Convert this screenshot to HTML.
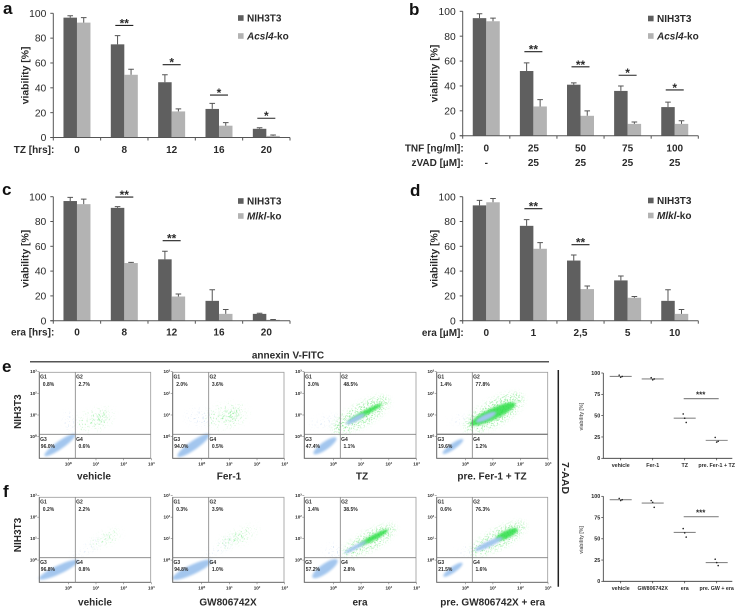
<!DOCTYPE html>
<html lang="en">
<head>
<meta charset="utf-8">
<title>Viability and flow cytometry figure</title>
<style>
html,body{margin:0;padding:0;background:#fff;width:738px;height:609px;overflow:hidden}
svg{display:block;filter:blur(.35px)}
text{font-family:"Liberation Sans",Arial,sans-serif;fill:#2a2a2a}
.b{font-weight:bold}
</style>
</head>
<body>
<svg id="fig" xmlns="http://www.w3.org/2000/svg" width="738" height="609" viewBox="0 0 738 609">
<defs>
<filter id="sparse" x="-40%" y="-60%" width="180%" height="220%">
<feGaussianBlur stdDeviation="3.5" result="b"/>
<feTurbulence type="fractalNoise" baseFrequency="0.75" numOctaves="1" seed="4" result="n"/>
<feColorMatrix in="n" type="matrix" values="0 0 0 0 0  0 0 0 0 0  0 0 0 0 0  10 0 0 0 -6.1" result="m"/>
<feComposite in="b" in2="m" operator="in"/>
</filter>
<filter id="medium" x="-40%" y="-60%" width="180%" height="220%">
<feGaussianBlur stdDeviation="3" result="b"/>
<feTurbulence type="fractalNoise" baseFrequency="0.75" numOctaves="1" seed="9" result="n"/>
<feColorMatrix in="n" type="matrix" values="0 0 0 0 0  0 0 0 0 0  0 0 0 0 0  10 0 0 0 -5.4" result="m"/>
<feComposite in="b" in2="m" operator="in"/>
</filter>
<filter id="soft" x="-40%" y="-60%" width="180%" height="220%"><feGaussianBlur stdDeviation="1"/></filter>
</defs>
<rect width="738" height="609" fill="#fff"/>
<text class="b" x="3" y="14" font-size="17" style="fill:#111">a</text>
<text class="b" x="409" y="15" font-size="17" style="fill:#111">b</text>
<text class="b" x="2" y="195" font-size="17" style="fill:#111">c</text>
<text class="b" x="410" y="196" font-size="17" style="fill:#111">d</text>
<text class="b" x="2" y="372" font-size="17" style="fill:#111">e</text>
<text class="b" x="3" y="497" font-size="17" style="fill:#111">f</text>
<text class="b" x="288" y="358.5" font-size="10" text-anchor="middle">annexin V-FITC</text>
<line x1="30" x2="549" y1="361.7" y2="361.7" stroke="#555" stroke-width="1.5"/>
<line x1="558.3" x2="558.3" y1="370" y2="586.7" stroke="#222" stroke-width="1.5"/>
<text class="b" font-size="10.5" text-anchor="middle" transform="translate(562,478) rotate(90)">7-AAD</text>
<text class="b" font-size="10" text-anchor="middle" transform="translate(21,411.7) rotate(-90)">NIH3T3</text>
<text class="b" font-size="10" text-anchor="middle" transform="translate(21,535) rotate(-90)">NIH3T3</text>
<text class="b" font-size="10" text-anchor="middle" x="94" y="479.5">vehicle</text>
<text class="b" font-size="10" text-anchor="middle" x="229" y="479.5">Fer-1</text>
<text class="b" font-size="10" text-anchor="middle" x="362" y="479.5">TZ</text>
<text class="b" font-size="10" text-anchor="middle" x="492" y="479.5">pre. Fer-1 + TZ</text>
<text class="b" font-size="10" text-anchor="middle" x="95" y="605.5">vehicle</text>
<text class="b" font-size="10" text-anchor="middle" x="228" y="605.5">GW806742X</text>
<text class="b" font-size="10" text-anchor="middle" x="360" y="605.5">era</text>
<text class="b" font-size="10" text-anchor="middle" x="492.7" y="605.5">pre. GW806742X + era</text>
</svg>
<script>
/* ---------- Bar chart data ---------- */
const aCategories = ['0','8','12','16','20'];
const aNih = [96.5,75,44.5,23,7];
const aNihTop = [98,82,50.5,27.5,7.8];
const aKo = [92.5,50.5,21,9.5,1.3];
const aKoTop = [96.5,55,23,12,2];
const aSigGroups = [1,2,3,4];
const aSigLevels = [90.2,58.6,34.2,15.5];
const aSigStars = ['**','*','*','*'];

const bCategories = ['0','25','50','75','100'];
const bSecondRow = ['-','25','25','25','25'];
const bNih = [94.5,52,41,36,23];
const bNihTop = [98,58.5,42.5,40,27];
const bKo = [92,23.5,16,9.5,9.5];
const bKoTop = [94.5,29,20,11,12];
const bSigGroups = [1,2,3,4];
const bSigLevels = [67.5,55.4,48.6,36.8];
const bSigStars = ['**','**','*','*'];

const cCategories = ['0','8','12','16','20'];
const cNih = [96.5,91,49.5,16,5.5];
const cNihTop = [99.5,92,56,25,6];
const cKo = [94,46.5,19.5,5.5,0.7];
const cKoTop = [98,47,21.5,9,1];
const cSigGroups = [1,2];
const cSigLevels = [99.7,64.5];
const cSigStars = ['**','**'];

const dCategories = ['0','1','2,5','5','10'];
const dNih = [93,76.5,48.5,32.5,16];
const dNihTop = [97,81.5,53,36,25];
const dKo = [95.5,58,25.5,18.5,5.5];
const dKoTop = [98.5,63,28,19.5,9];
const dSigGroups = [1,2];
const dSigLevels = [90.3,61.3];
const dSigStars = ['**','**'];

const barTicks = [0,20,40,60,80,100];

/* ---------- Dot plot data ---------- */
const eDotCategories = ['vehicle','Fer-1','TZ','pre. Fer-1 + TZ'];
const eDotMeans = [96,93,47,21];
const eDotPoints = [[97.5,95,96],[94.5,92,93],[52,47,42],[24.5,19,20]];
const eDotSigLevel = 70;
const fDotCategories = ['vehicle','GW806742X','era','pre. GW + era'];
const fDotMeans = [96,92,57.5,22];
const fDotPoints = [[97.5,95,96],[95,93,87],[62,57,52],[26,22,18.5]];
const fDotSigLevel = 76;
const dotTicks = [0,25,50,75,100];

/* ---------- Flow cytometry gate percentages (G1, G2, G3, G4) ---------- */
const eGates = [['0.8','2.7','96.0','0.6'],['2.0','3.6','94.0','0.5'],['3.0','48.5','47.4','1.1'],['1.4','77.8','19.6','1.2']];
const fGates = [['0.2','2.2','96.8','0.8'],['0.3','3.9','94.8','1.0'],['1.4','38.5','57.2','2.8'],['0.6','76.3','21.5','1.6']];
/* Cloud estimates in log10 decades: [x, y, spreadX, spreadY, tiltDegrees] */
const eGreenClouds = [[[0.96,0.77,0.7,0.42,20]],[[0.9,0.95,0.75,0.5,10]],[[1.0,1.0,1.15,0.48,30]],[[1.05,1.1,1.2,0.55,30]]];
const eDenseClouds = [[[1.1,0.85,0.3,0.12,15]],[[1.0,1.0,0.35,0.16,10]],[[1.15,1.1,0.7,0.12,28]],[[1.0,1.05,0.9,0.26,25]]];
const eBlueClouds = [[[-0.3,-0.38,0.68,0.18,35]],[[-0.3,-0.4,0.7,0.2,35]],[[-0.3,-0.42,0.5,0.18,35],[0.8,0.82,0.38,0.11,28]],[[-0.45,-0.45,0.45,0.14,35],[0.75,0.9,0.4,0.13,25]]];
const ePaleClouds = [[[0.05,0.7,0.2,0.45,0]],[[-0.1,0.9,0.45,0.35,0]],[[-0.3,0.7,0.55,0.2,15]],[[-0.2,0.8,0.35,0.16,15]]];
const fGreenClouds = [[[1.35,1.0,0.6,0.22,25]],[[1.3,1.05,0.8,0.26,25]],[[1.3,0.9,1.05,0.4,28]],[[1.2,1.0,1.1,0.42,28]]];
const fDenseClouds = [[[1.35,1.05,0.22,0.07,15]],[[1.2,1.05,0.35,0.11,20]],[[1.45,1.05,0.6,0.13,28]],[[1.5,1.2,0.45,0.18,25]]];
const fBlueClouds = [[[-0.35,-0.45,0.78,0.2,25]],[[-0.35,-0.45,0.78,0.22,25]],[[-0.3,-0.4,0.55,0.22,35],[0.8,0.6,0.45,0.09,28]],[[-0.45,-0.45,0.42,0.14,35],[0.85,0.75,0.55,0.13,25]]];
const fPaleClouds = [[[0.7,0.55,0.7,0.16,30]],[[0.7,0.6,0.7,0.18,30]],[[0.0,0.4,0.3,0.3,0]],[[0.0,0.4,0.25,0.16,0]]];
const facsTickPowers = ['10\u2070','10\u00b9','10\u00b2','10\u00b3'];

/* ---------- Layout (not data) ---------- */
const NS = 'http://www.w3.org/2000/svg';
const fig = document.getElementById('fig');
function mk(tag, attrs, parent, txt) {
  const n = document.createElementNS(NS, tag);
  for (const k in attrs) n.setAttribute(k, attrs[k]);
  if (txt !== undefined) n.textContent = txt;
  (parent || fig).appendChild(n);
  return n;
}

function drawBarPanel(p) {
  const g = mk('g', {});
  
  
  const step = (p.x1 - p.x0) / p.cats.length;
  const sx = i => p.x0 + step * (i + 0.5);
  const sy = v => p.y0 - (p.y0 - p.y100) * v / 100;
  const barW = 13.5;
  function series(vals, tops, off, color, label) {
    vals.forEach((v, i) => {
      const x = sx(i) + off;
      const r = mk('rect', {x: x, y: sy(v), width: barW, height: p.y0 - sy(v), fill: color}, g);
      
      
      const cx = x + barW / 2;
      const e = mk('path', {d: 'M' + cx + ' ' + sy(v) + 'V' + sy(tops[i]) + 'M' + (cx - 2.8) + ' ' + sy(tops[i]) + 'H' + (cx + 2.8), stroke: '#555', 'stroke-width': 1, fill: 'none'}, g);
      
      
    });
  }
  series(p.nih, p.nihTop, -barW, '#5f5f5f', 'nih3t3');
  series(p.ko, p.koTop, 0, '#b3b3b3', 'ko');
  const ya = mk('line', {x1: p.x0, x2: p.x0, y1: p.y100, y2: p.y0, stroke: '#555'}, g);
  
  
  const xa = mk('line', {x1: p.x0 - 3, x2: p.x1, y1: p.y0, y2: p.y0, stroke: '#555'}, g);
  
  
  barTicks.forEach(t => {
    const tk = mk('line', {x1: p.x0 - 3, x2: p.x0, y1: sy(t), y2: sy(t), stroke: '#555'}, g);
    
    
    const lb = mk('text', {x: p.x0 - 7, y: sy(t) + 3.6, 'font-size': 10.3, 'text-anchor': 'end'}, g, String(t));
    
    
  });
  for (let i = 0; i <= p.cats.length; i++) {
    const tk = mk('line', {x1: p.x0 + step * i, x2: p.x0 + step * i, y1: p.y0, y2: p.y0 + 3, stroke: '#555'}, g);
    
    
  }
  p.cats.forEach((c, i) => {
    const lb = mk('text', {x: sx(i), y: p.labelY, 'font-size': 10, 'text-anchor': 'middle', class: 'b'}, g, c);
    
    
  });
  const xt = mk('text', {x: p.x0 + 1, y: p.labelY, 'font-size': 10, 'text-anchor': 'end', class: 'b'}, g, p.xTitle);
  
  
  if (p.second) {
    p.second.forEach((c, i) => {
      const lb = mk('text', {x: sx(i), y: p.labelY + 14.5, 'font-size': 10, 'text-anchor': 'middle', class: 'b'}, g, c);
      
      
    });
    const t2 = mk('text', {x: p.x0 + 1, y: p.labelY + 14.5, 'font-size': 10, 'text-anchor': 'end', class: 'b'}, g, p.secondTitle);
    
    
  }
  const yt = mk('text', {'font-size': 10.4, 'text-anchor': 'middle', class: 'b', transform: 'translate(' + (p.x0 - 25) + ',' + ((p.y0 + p.y100) / 2) + ') rotate(-90)'}, g, 'viability [%]');
  
  
  p.sigGroups.forEach((grp, i) => {
    const y = sy(p.sigLevels[i]);
    const ln = mk('line', {x1: sx(grp) - 9, x2: sx(grp) + 9, y1: y, y2: y, stroke: '#222', 'stroke-width': 1.1}, g);
    
    
    const st = mk('text', {x: sx(grp), y: y + 2, 'font-size': 12, 'text-anchor': 'middle', class: 'b'}, g, p.sigStars[i]);
    
    
  });
  const sw1 = mk('rect', {x: p.legX, y: p.legY1 - 2.8, width: 5.6, height: 5.6, fill: '#5f5f5f'}, g);
  
  
  const l1 = mk('text', {x: p.legX + 9, y: p.legY1 + 3.6, 'font-size': 10, class: 'b'}, g, 'NIH3T3');
  
  
  const sw2 = mk('rect', {x: p.legX, y: p.legY2 - 2.8, width: 5.6, height: 5.6, fill: '#b3b3b3'}, g);
  
  
  const l2 = mk('text', {x: p.legX + 9, y: p.legY2 + 3.6, 'font-size': 10, class: 'b'}, g);
  
  
  mk('tspan', {'font-style': 'italic'}, l2, p.koName);
  mk('tspan', {}, l2, '-ko');
}

drawBarPanel({id:'a',x0:53.3,x1:290,y0:137.5,y100:13.3,cats:aCategories,nih:aNih,nihTop:aNihTop,ko:aKo,koTop:aKoTop,sigGroups:aSigGroups,sigLevels:aSigLevels,sigStars:aSigStars,labelY:153,xTitle:'TZ [hrs]:',legX:238,legY1:18,legY2:36,koName:'Acsl4'});
drawBarPanel({id:'b',x0:462.7,x1:698.3,y0:135.7,y100:11.3,cats:bCategories,nih:bNih,nihTop:bNihTop,ko:bKo,koTop:bKoTop,sigGroups:bSigGroups,sigLevels:bSigLevels,sigStars:bSigStars,labelY:151.5,xTitle:'TNF [ng/ml]:',second:bSecondRow,secondTitle:'zVAD [\u00b5M]:',legX:648,legY1:18.5,legY2:36,koName:'Acsl4'});
drawBarPanel({id:'c',x0:53.3,x1:290,y0:320.7,y100:196.7,cats:cCategories,nih:cNih,nihTop:cNihTop,ko:cKo,koTop:cKoTop,sigGroups:cSigGroups,sigLevels:cSigLevels,sigStars:cSigStars,labelY:335.5,xTitle:'era [hrs]:',legX:238,legY1:201,legY2:216,koName:'Mlkl'});
drawBarPanel({id:'d',x0:462.7,x1:698.3,y0:320.7,y100:196.7,cats:dCategories,nih:dNih,nihTop:dNihTop,ko:dKo,koTop:dKoTop,sigGroups:dSigGroups,sigLevels:dSigLevels,sigStars:dSigStars,labelY:336,xTitle:'era [\u00b5M]:',legX:648,legY1:200.5,legY2:215.5,koName:'Mlkl'});

/* ---------- Flow cytometry plots ---------- */
function drawFacs(row, idx, box, gates, green, dense, blue, pale) {
  const g = mk('g', {});
  
  
  const w = box.r - box.l;
  const h = box.b - box.t;
  const dx = w * 0.2485;
  const dy = h * 0.2525;
  const sx = v => box.vline + (v * dx) - 7;
  const sy = v => box.hline + 2.4 - v * dy;
  function clouds(list, color, filter, op, label) {
    list.forEach(c => {
      const el = mk('ellipse', {cx: 0, cy: 0, rx: c[2] * dx, ry: c[3] * dy, fill: color, opacity: op, filter: 'url(#' + filter + ')', transform: 'translate(' + sx(c[0]) + ',' + sy(c[1]) + ') rotate(' + (-c[4]) + ')'}, g);
      
      
    });
  }
  const heavy = idx >= 2;
  clouds(pale, '#b4cdee', 'sparse', 0.7, 'sparse-events');
  clouds(green, '#6fe57c', heavy ? 'medium' : 'sparse', heavy ? 0.85 : 0.75, 'green-events');
  clouds(dense, '#2ade45', heavy ? 'soft' : 'medium', heavy ? 0.85 : 0.7, 'dense-green-events');
  clouds(blue, '#a3c6ee', 'soft', 1, 'blue-events');
  const fr = mk('rect', {x: box.l, y: box.t, width: w, height: h, fill: 'none', stroke: '#9a9a9a', 'stroke-width': 0.8}, g);
  
  
  const ax = mk('path', {d: 'M' + box.l + ' ' + box.t + 'V' + box.b + 'H' + box.r, fill: 'none', stroke: '#666', 'stroke-width': 0.9}, g);
  
  
  const vl = mk('line', {x1: box.vline, x2: box.vline, y1: box.t, y2: box.b, stroke: '#808080', 'stroke-width': 0.8}, g);
  
  
  const hl = mk('line', {x1: box.l, x2: box.r, y1: box.hline, y2: box.hline, stroke: '#808080', 'stroke-width': (row === 'e' && idx === 3) ? 1.4 : 0.8}, g);
  
  
  facsTickPowers.forEach((t, i) => {
    const xl = mk('text', {x: sx(i), y: box.b + 7, 'font-size': 4.6, 'text-anchor': 'middle', class: 'b'}, g, t);
    
    
    const xk = mk('line', {x1: sx(i), x2: sx(i), y1: box.b, y2: box.b + 2, stroke: '#777', 'stroke-width': 0.6}, g);
    
    
    const yl = mk('text', {x: box.l - 2.5, y: sy(i) + 1.5, 'font-size': 4.6, 'text-anchor': 'end', class: 'b'}, g, t);
    
    
    const yk = mk('line', {x1: box.l - 2, x2: box.l, y1: sy(i), y2: sy(i), stroke: '#777', 'stroke-width': 0.6}, g);
    
    
  });
  const spots = [
    ['G1', box.l + 0.8, box.t + 6, box.l + 3.5, box.t + 13.5],
    ['G2', box.vline + 0.8, box.t + 6, box.vline + 3.2, box.t + 13.5],
    ['G3', box.l + 0.8, box.hline + 6.5, box.l + 1.5, box.hline + 13.5],
    ['G4', box.vline + 0.8, box.hline + 6.5, box.vline + 3.2, box.hline + 13.5]
  ];
  spots.forEach((s, i) => {
    const a = mk('text', {x: s[1], y: s[2], 'font-size': 5, class: 'b'}, g, s[0]);
    
    
    const b = mk('text', {x: s[3], y: s[4], 'font-size': 5, class: 'b'}, g, gates[i] + '%');
    
    
  });
}
const facsBoxes = [[39.3,150.7,75.3],[172.7,284,208.7],[304.3,416,340.3],[436.7,547.7,472.3]];
facsBoxes.forEach((fb, i) => {
  drawFacs('e', i, {l:fb[0], r:fb[1], vline:fb[2], t:372.3, b:458.3, hline:434.3}, eGates[i], eGreenClouds[i], eDenseClouds[i], eBlueClouds[i], ePaleClouds[i]);
  drawFacs('f', i, {l:fb[0], r:fb[1], vline:fb[2], t:497.3, b:582.3, hline:557.7}, fGates[i], fGreenClouds[i], fDenseClouds[i], fBlueClouds[i], fPaleClouds[i]);
});

/* ---------- Dot plots ---------- */
function drawDots(row, cats, means, points, sigLevel, y100, y0) {
  const g = mk('g', {});
  
  
  const x0 = 603.3, x1 = 732.3, first = 620.7, step = 32;
  const sx = i => first + step * i;
  const sy = v => y0 - (y0 - y100) * v / 100;
  const ax = mk('path', {d: 'M' + x0 + ' ' + y100 + 'V' + y0 + 'H' + x1, fill: 'none', stroke: '#333', 'stroke-width': 0.8}, g);
  
  
  dotTicks.forEach(t => {
    const tk = mk('line', {x1: x0 - 2, x2: x0, y1: sy(t), y2: sy(t), stroke: '#333', 'stroke-width': 0.7}, g);
    
    
    const lb = mk('text', {x: x0 - 3, y: sy(t) + 1.9, 'font-size': 5.4, 'text-anchor': 'end', class: 'b'}, g, String(t));
    
    
  });
  const yt = mk('text', {'font-size': 5, 'text-anchor': 'middle', class: 'b', transform: 'translate(583,' + ((y0 + y100) / 2 + 1) + ') rotate(-90)', style: 'fill:#666'}, g, 'viability [%]');
  
  
  cats.forEach((c, i) => {
    const tk = mk('line', {x1: sx(i), x2: sx(i), y1: y0, y2: y0 + 2, stroke: '#333', 'stroke-width': 0.7}, g);
    
    
    const lb = mk('text', {x: sx(i), y: y0 + 8.5, 'font-size': 5.3, 'text-anchor': 'middle', class: 'b'}, g, c);
    
    
    const mean = mk('line', {x1: sx(i) - 11, x2: sx(i) + 11, y1: sy(means[i]), y2: sy(means[i]), stroke: '#888', 'stroke-width': 1.1}, g);
    
    
    points[i].forEach((v, j) => {
      const pt = mk('circle', {cx: sx(i) + (v === points[i][1] ? 0 : (j === 0 ? -1.5 : 1.5)), cy: sy(v), r: 0.8, fill: '#222'}, g);
      
      
    });
  });
  const sl = mk('line', {x1: sx(2) - 1, x2: sx(3) + 2, y1: sy(sigLevel), y2: sy(sigLevel), stroke: '#888', 'stroke-width': 1.2}, g);
  
  
  const st = mk('text', {x: (sx(2) + sx(3)) / 2, y: sy(sigLevel) - 1, 'font-size': 8, 'text-anchor': 'middle', class: 'b'}, g, '***');
  
  
}
drawDots('e', eDotCategories, eDotMeans, eDotPoints, eDotSigLevel, 373, 458.3);
drawDots('f', fDotCategories, fDotMeans, fDotPoints, fDotSigLevel, 496.3, 581.3);
</script>
</body>
</html>
